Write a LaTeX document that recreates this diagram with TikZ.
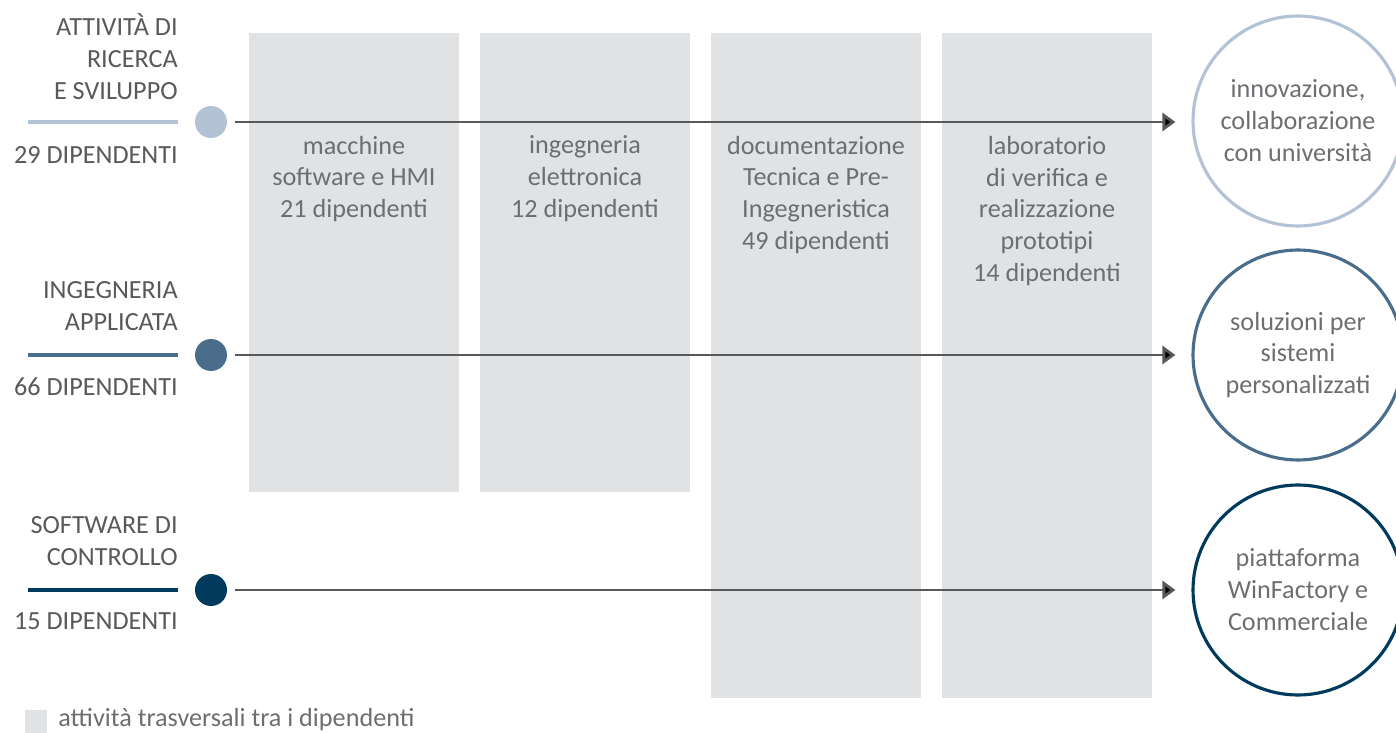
\documentclass[tikz,border=0pt]{standalone}
\usepackage{fontspec}
\setmainfont{Carlito}
\usepackage{tikz}
\usetikzlibrary{arrows.meta}

\definecolor{paleblue}{HTML}{B3C3D5}
\definecolor{midblue}{HTML}{4A6D8C}
\definecolor{deepblue}{HTML}{003A5D}
\definecolor{inkgray}{HTML}{58595B}
\definecolor{softgray}{HTML}{6D6E71}
\definecolor{boxgray}{HTML}{E1E2E4}

\newcommand{\labelfont}{\fontsize{14.9}{18.2}\selectfont}

\tikzset{
	area/.style={align=right,anchor=east,inner xsep=0pt,text=inkgray,font=\labelfont},
	dot/.style={shape=circle,minimum size=0.64cm,inner sep=0pt},
	goal/.style={shape=circle,draw,line width=1.8pt,minimum size=4.2cm,inner sep=0pt,align=center,text=softgray,font=\labelfont},
	column/.style={fill=boxgray,minimum width=4.2cm,inner sep=0pt},
	coltext/.style={align=center,text=softgray,font=\labelfont},
	flow/.style={draw=inkgray,line width=1.6pt,-{Triangle[length=0.26cm,width=0.36cm]},shorten <=0.16cm,shorten >=0.32cm},
	bar/.style={line width=2.2pt}
}

\begin{document}
\begin{tikzpicture}[x=0.02cm,y=-0.02cm]
	\useasboundingbox (0,0) rectangle (1396,733);

	\node[column,minimum height=9.18cm] (colA) at (354, 262.5) {};
	\node[column,minimum height=9.18cm] (colB) at (585, 262.5) {};
	\node[column,minimum height=13.3cm] (colC) at (816, 365.5) {};
	\node[column,minimum height=13.3cm] (colD) at (1047, 365.5) {};

	\node[coltext] (txtA) at (354, 179) {macchine\\software e HMI\\21 dipendenti};
	\node[coltext] (txtB) at (585, 179) {ingegneria\\elettronica\\12 dipendenti};
	\node[coltext] (txtC) at (816, 195) {documentazione\\Tecnica e Pre-\\Ingegneristica\\49 dipendenti};
	\node[coltext] (txtD) at (1047, 211) {laboratorio\\di verifica e\\realizzazione\\prototipi\\14 dipendenti};

	\node[area] (ricerca) at (178, 57) {ATTIVITÀ DI\\RICERCA\\E SVILUPPO};
	\node[area] (ricercaN) at (178, 155) {29 DIPENDENTI};
	\node[area] (applicata) at (178, 306.5) {INGEGNERIA\\APPLICATA};
	\node[area] (applicataN) at (178, 387) {66 DIPENDENTI};
	\node[area] (controllo) at (178, 541) {SOFTWARE DI\\CONTROLLO};
	\node[area] (controlloN) at (178, 621) {15 DIPENDENTI};

	\coordinate (barA) at (28, 122);
	\coordinate (barB) at (28, 355);
	\coordinate (barC) at (28, 590);

	\node[dot,fill=paleblue] (dotA) at (211, 122) {};
	\node[dot,fill=midblue] (dotB) at (211, 355) {};
	\node[dot,fill=deepblue] (dotC) at (211, 590) {};

	\node[goal,draw=paleblue] (goalA) at (1298, 121) {innovazione,\\collaborazione\\con università};
	\node[goal,draw=midblue] (goalB) at (1298, 355) {soluzioni per\\sistemi\\personalizzati};
	\node[goal,draw=deepblue] (goalC) at (1298, 590) {piattaforma\\WinFactory e\\Commerciale};

	\draw[bar,paleblue] (barA) -- (barA -| ricerca.east);
	\draw[bar,midblue] (barB) -- (barB -| applicata.east);
	\draw[bar,deepblue] (barC) -- (barC -| controllo.east);

	\path[flow] (dotA) edge (goalA.west |- dotA);
	\path[flow] (dotB) edge (goalB);
	\path[flow] (dotC) edge (goalC);

	\node[column,minimum width=0.44cm,minimum height=0.46cm] (key) at (36, 721.5) {};
	\node[anchor=west,inner xsep=0pt,text=softgray,font=\labelfont] (keytext) at (58, 720) {attività trasversali tra i dipendenti};
\end{tikzpicture}
\end{document}
